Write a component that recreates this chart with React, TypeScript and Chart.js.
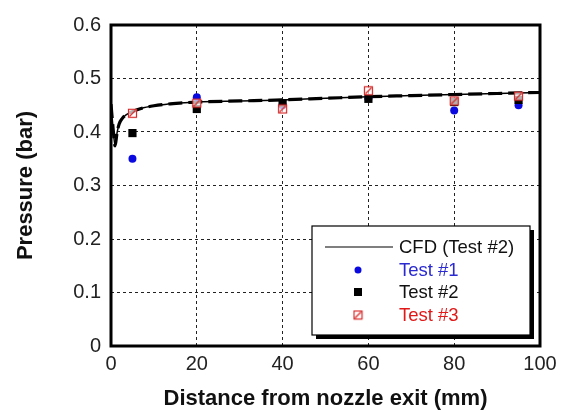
import React, { useEffect, useRef } from "react";
import { Chart, registerables } from "chart.js";
Chart.register(...registerables);

// CFD curve (Test #2)
const cfdX = [0, 0.45, 0.95, 1.4, 1.9, 2.6, 3.5, 5, 7, 10, 13, 16, 20, 30, 40, 50, 60, 70, 80, 90, 100];
const cfdY = [0.452, 0.41, 0.374, 0.398, 0.415, 0.425, 0.432, 0.438, 0.444, 0.449, 0.452, 0.454, 0.456, 0.458, 0.46, 0.463, 0.466, 0.468, 0.47, 0.472, 0.474];

// Measurements
const testX = [5, 20, 40, 60, 80, 95];
const test1 = [0.35, 0.465, 0.45, 0.463, 0.44, 0.45];
const test2 = [0.398, 0.443, 0.454, 0.462, 0.456, 0.46];
const test3 = [0.435, 0.454, 0.443, 0.477, 0.458, 0.467];

const xTickValues = [0, 20, 40, 60, 80, 100];
const yTickValues = [0, 0.1, 0.2, 0.3, 0.4, 0.5, 0.6];

const legendLabels = ["CFD (Test #2)", "Test #1", "Test #2", "Test #3"];
const legendColors = ["#111111", "#2a2ad0", "#111111", "#e01818"];

const FONT = "'Liberation Sans', Arial, Helvetica, sans-serif";

function makeHatchSquare(): HTMLCanvasElement {
  const c = document.createElement("canvas");
  c.width = 11;
  c.height = 11;
  const g = c.getContext("2d")!;
  g.fillStyle = "rgba(255,255,255,0.7)";
  g.fillRect(1, 1, 9, 9);
  g.strokeStyle = "#d62828";
  g.lineWidth = 1.2;
  g.strokeRect(1.5, 1.5, 8, 8);
  g.beginPath();
  g.moveTo(2.5, 8.5);
  g.lineTo(8.5, 2.5);
  g.stroke();
  return c;
}

const framePlugin = {
  id: "frame",
  beforeDatasetsDraw(chart: any) {
    const { ctx, chartArea: a } = chart;
    ctx.save();
    ctx.strokeStyle = "#000";
    ctx.lineWidth = 3;
    ctx.strokeRect(a.left, a.top, a.right - a.left, a.bottom - a.top);
    ctx.restore();
  },
};

const legendPlugin = {
  id: "boxLegend",
  afterDraw(chart: any) {
    const { ctx, chartArea: a } = chart;
    const w = 218;
    const h = 109;
    const x = a.right - 10 - w;
    const y = a.bottom - 11 - h;
    ctx.save();
    ctx.fillStyle = "#000";
    ctx.fillRect(x + 4, y + 4, w, h);
    ctx.fillStyle = "#fff";
    ctx.fillRect(x, y, w, h);
    ctx.strokeStyle = "#000";
    ctx.lineWidth = 1.2;
    ctx.strokeRect(x, y, w, h);
    const rows = [21, 44, 66, 89];
    const mx = x + 46;
    ctx.font = `18.5px ${FONT}`;
    ctx.textBaseline = "middle";
    rows.forEach((dy, i) => {
      const yy = y + dy;
      if (i === 0) {
        ctx.strokeStyle = "#000";
        ctx.lineWidth = 1.2;
        ctx.beginPath();
        ctx.moveTo(x + 13, yy);
        ctx.lineTo(x + 81, yy);
        ctx.stroke();
      } else if (i === 1) {
        ctx.fillStyle = "#0a0ae0";
        ctx.beginPath();
        ctx.arc(mx, yy, 3.5, 0, Math.PI * 2);
        ctx.fill();
      } else if (i === 2) {
        ctx.fillStyle = "#000";
        ctx.fillRect(mx - 4, yy - 4, 8, 8);
      } else {
        ctx.drawImage(makeHatchSquare(), mx - 5.5, yy - 5.5);
      }
      ctx.fillStyle = legendColors[i];
      ctx.fillText(legendLabels[i], x + 87, yy + 1);
    });
    ctx.restore();
  },
};

export default function App() {
  const ref = useRef<HTMLCanvasElement>(null);
  useEffect(() => {
    const hatch = makeHatchSquare();
    const cfd = cfdX.map((x, i) => ({ x, y: cfdY[i] }));
    const pts = (arr: number[]) => testX.map((x, i) => ({ x, y: arr[i] }));
    const chart = new Chart(ref.current!, {
      type: "scatter",
      data: {
        datasets: [
          {
            label: "Test #3",
            data: pts(test3),
            pointStyle: hatch as any,
            pointRadius: 5,
            showLine: false,
            order: 0,
          },
          {
            label: "Test #2",
            data: pts(test2),
            pointStyle: "rect",
            pointRadius: 5.8,
            backgroundColor: "#000",
            borderColor: "#000",
            borderWidth: 0,
            showLine: false,
            order: 1,
          },
          {
            label: "Test #1",
            data: pts(test1),
            pointStyle: "circle",
            pointRadius: 4,
            backgroundColor: "#0a0ae0",
            borderColor: "#0a0ae0",
            borderWidth: 0,
            showLine: false,
            order: 2,
          },
          {
            label: "CFD dashed",
            data: cfd,
            showLine: true,
            borderColor: "#000",
            borderWidth: 3.2,
            borderDash: [14, 6],
            pointRadius: 0,
            cubicInterpolationMode: "monotone",
            order: 3,
          },
          {
            label: "CFD (Test #2)",
            data: cfd,
            showLine: true,
            borderColor: "#000",
            borderWidth: 1.5,
            pointRadius: 0,
            cubicInterpolationMode: "monotone",
            order: 4,
          },
        ],
      },
      options: {
        animation: false,
        responsive: false,
        maintainAspectRatio: false,
        layout: { padding: { left: 0, top: 25, right: 27, bottom: 0 } },
        plugins: { legend: { display: false }, tooltip: { enabled: false } },
        scales: {
          x: {
            type: "linear",
            min: 0,
            max: 100,
            afterFit: (s: any) => {
              s.height = 66;
            },
            afterBuildTicks: (s: any) => {
              s.ticks = xTickValues.map((v) => ({ value: v }));
            },
            ticks: {
              font: { family: FONT, size: 20 },
              color: "#222",
              padding: 6,
              maxRotation: 0,
            },
            grid: { color: "#222", lineWidth: 1, drawTicks: false, tickLength: 0 },
            border: { display: false, dash: [3, 3] },
            title: {
              display: true,
              text: "Distance from nozzle exit (mm)",
              font: { family: FONT, size: 22, weight: "bold" },
              color: "#111",
              padding: { top: 0, bottom: 0 },
            },
          },
          y: {
            type: "linear",
            min: 0,
            max: 0.6,
            afterFit: (s: any) => {
              s.width = 111;
            },
            afterBuildTicks: (s: any) => {
              s.ticks = yTickValues.map((v) => ({ value: v }));
            },
            ticks: {
              font: { family: FONT, size: 20 },
              color: "#222",
              padding: 10,
              callback: (v: any) => (v === 0 ? "0" : Number(v).toFixed(1)),
            },
            grid: { color: "#222", lineWidth: 1, drawTicks: false, tickLength: 0 },
            border: { display: false, dash: [3, 3] },
            title: {
              display: true,
              text: "Pressure (bar)",
              font: { family: FONT, size: 22, weight: "bold" },
              color: "#111",
              padding: { top: 13, bottom: 0 },
            },
          },
        },
      },
      plugins: [framePlugin, legendPlugin],
    });
    return () => chart.destroy();
  }, []);
  return (
    <div style={{ position: "fixed", left: 0, top: 0, width: 567, height: 412, background: "#fff" }}>
      <canvas ref={ref} width={567} height={412} style={{ width: 567, height: 412, display: "block" }} />
    </div>
  );
}
